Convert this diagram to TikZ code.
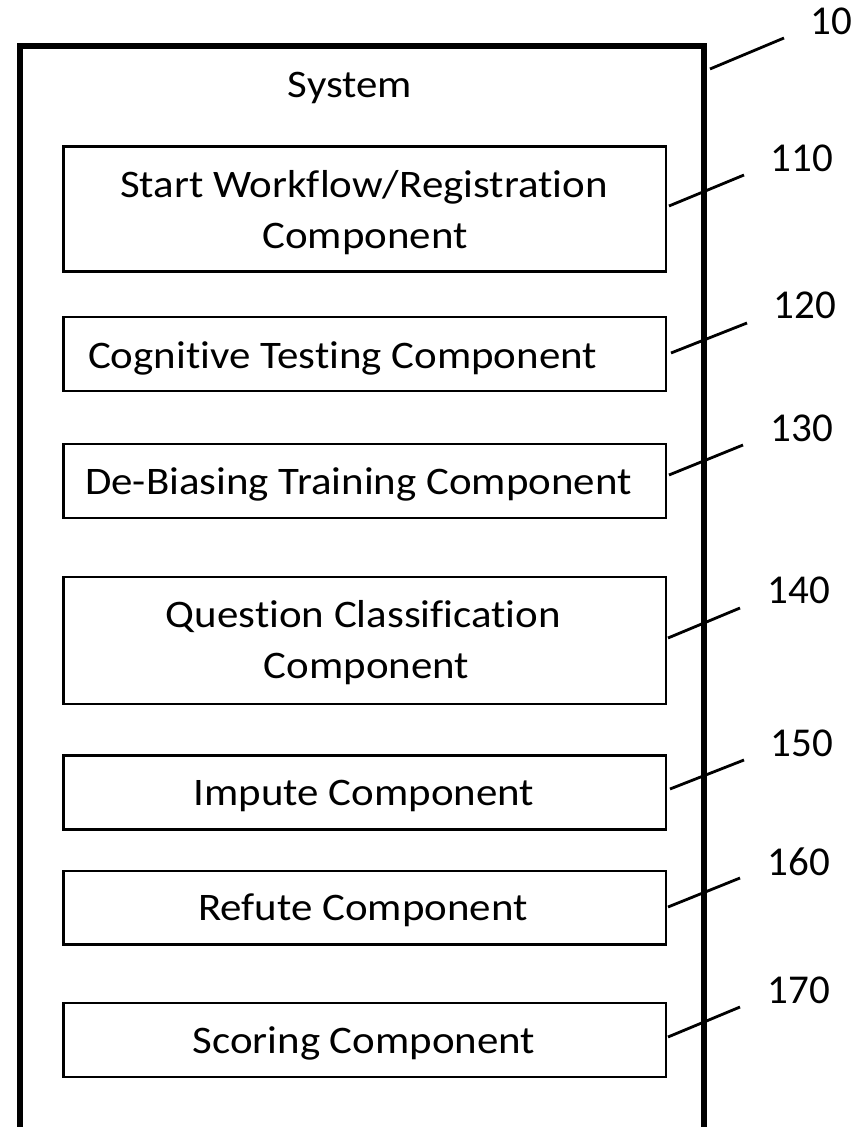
\documentclass[tikz,border=0pt]{standalone}
\usepackage{fontspec}
\setmainfont{Carlito}
\newfontfamily\widefont[FakeStretch=1.1,Ligatures=NoCommon]{Carlito}
\begin{document}
\begin{tikzpicture}[x=1pt,y=-1pt,
  outerbox/.style={draw=black,line width=6pt},
  compbox/.style={draw=black,line width=2.6pt,inner sep=0pt},
  txt/.style={anchor=base,inner sep=0pt,font=\widefont\fontsize{39}{47}\selectfont},
  reflabel/.style={anchor=center,inner sep=0pt,font=\fontsize{41}{48}\selectfont},
  leader/.style={draw=black,line width=2.8pt}]
\useasboundingbox (0,0) rectangle (865,1127);
% outer system box
\draw[outerbox] (20,45.5) rectangle (703.5,1129.5);
\node[txt] (tsys) at (350,97) {System};
% component boxes
\draw[compbox] (63.5,146.5) rectangle (666,271.5);
\draw[compbox] (63.5,317) rectangle (666,391);
\draw[compbox] (63.5,444) rectangle (666,518);
\draw[compbox] (63.5,577) rectangle (666,704);
\draw[compbox] (63.5,755.5) rectangle (666,829.5);
\draw[compbox] (63.5,871) rectangle (666,944.5);
\draw[compbox] (63.5,1003) rectangle (666,1077);
% texts
\node[txt] (t110a) at (364,197) {Start Workflow/Registration};
\node[txt] (t110b) at (365,248) {Component};
\node[txt] (t120) at (342.5,368) {Cognitive Testing Component};
\node[txt] (t130) at (358.5,494) {De-Biasing Training Component};
\node[txt] (t140a) at (363.5,627) {Question Classification};
\node[txt] (t140b) at (366.5,678) {Component};
\node[txt] (t150) at (364,805) {Impute Component};
\node[txt] (t160) at (363,920) {Refute Component};
\node[txt] (t170) at (364,1053) {Scoring Component};
% reference labels
\node[reflabel] (r10) at (831,21.5) {10};
\node[reflabel] (r110) at (802,158) {110};
\node[reflabel] (r120) at (805,305.5) {120};
\node[reflabel] (r130) at (802,428.5) {130};
\node[reflabel] (r140) at (799,590.5) {140};
\node[reflabel] (r150) at (802,743.5) {150};
\node[reflabel] (r160) at (799,861.5) {160};
\node[reflabel] (r170) at (799,990) {170};
% leader coordinates
\coordinate (a10) at (710,69);   \coordinate (b10) at (784,38);
\coordinate (a110) at (669,206); \coordinate (b110) at (744,175);
\coordinate (a120) at (671,353); \coordinate (b120) at (747,323);
\coordinate (a130) at (669,475); \coordinate (b130) at (743,445);
\coordinate (a140) at (668,638); \coordinate (b140) at (740,608);
\coordinate (a150) at (670,789); \coordinate (b150) at (744,760);
\coordinate (a160) at (668,907); \coordinate (b160) at (740,878);
\coordinate (a170) at (668,1037); \coordinate (b170) at (740,1007);
\foreach \n in {10,110,120,130,140,150,160,170}
  \draw[leader] (a\n) -- (b\n);
\end{tikzpicture}
\end{document}
